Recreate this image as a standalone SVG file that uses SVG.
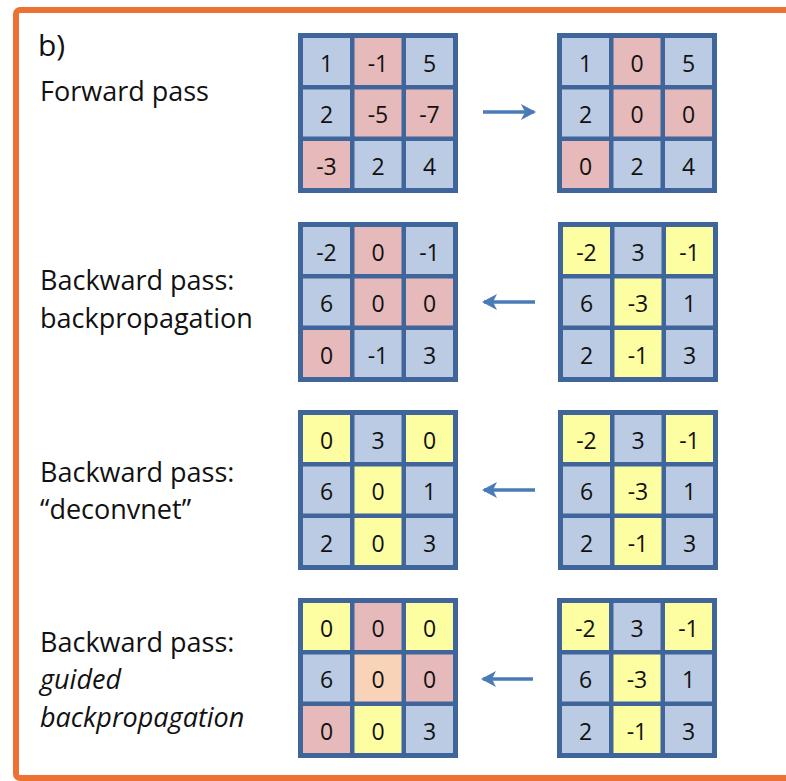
<svg xmlns="http://www.w3.org/2000/svg" width="786" height="781" viewBox="0 0 786 781">
<style>
.lbl{font-family:"Open Sans","Liberation Sans",sans-serif;font-size:27px;fill:#111}
.it{font-style:italic}
.frame{fill:#40659A}
.b{fill:#BACBE3}
.p{fill:#E6BABA}
.y{fill:#FDFDA2}
.o{fill:#F9D3B8}
.n{font-family:"Open Sans","Liberation Sans",sans-serif;font-size:23px;fill:#111;text-anchor:middle;dominant-baseline:central}
.arr{stroke:#4A7BB7;stroke-width:3.5;fill:none}
</style>
<defs>
<marker id="ah" markerWidth="16" markerHeight="18" refX="13" refY="9" orient="auto" markerUnits="userSpaceOnUse">
<path d="M0,1 L15,9 L0,17 L4,9 Z" fill="#4A7BB7"/>
</marker>
</defs>
<rect x="16" y="10" width="800" height="768" rx="4" fill="#fff" stroke="#ED7133" stroke-width="6"/>

<g id="label-b"><text class="lbl" x="38" y="56" style="font-size:30px">b)</text></g>
<g id="label-forward"><text class="lbl" x="40" y="101">Forward pass</text></g>
<g id="label-backprop"><text class="lbl" x="40" y="290">Backward pass:</text><text class="lbl" x="40" y="328">backpropagation</text></g>
<g id="label-deconv"><text class="lbl" x="40" y="482">Backward pass:</text><text class="lbl" x="40" y="519">“deconvnet”</text></g>
<g id="label-guided"><text class="lbl" x="40" y="652">Backward pass:</text><text class="lbl it" x="40" y="689">guided</text><text class="lbl it" x="40" y="727">backpropagation</text></g>

<g id="fwd-in" transform="translate(298,33)">
<rect class="frame" width="160" height="160"/>
<rect class="b" x="5" y="5" width="47" height="47"/><rect class="p" x="56.5" y="5" width="47" height="47"/><rect class="b" x="108" y="5" width="47" height="47"/>
<rect class="b" x="5" y="56.5" width="47" height="47"/><rect class="p" x="56.5" y="56.5" width="47" height="47"/><rect class="p" x="108" y="56.5" width="47" height="47"/>
<rect class="p" x="5" y="108" width="47" height="47"/><rect class="b" x="56.5" y="108" width="47" height="47"/><rect class="b" x="108" y="108" width="47" height="47"/>
<text class="n" x="28.5" y="29.5">1</text><text class="n" x="80" y="29.5">-1</text><text class="n" x="131.5" y="29.5">5</text>
<text class="n" x="28.5" y="81">2</text><text class="n" x="80" y="81">-5</text><text class="n" x="131.5" y="81">-7</text>
<text class="n" x="28.5" y="132.5">-3</text><text class="n" x="80" y="132.5">2</text><text class="n" x="131.5" y="132.5">4</text>
</g>

<g id="fwd-out" transform="translate(557,33)">
<rect class="frame" width="160" height="160"/>
<rect class="b" x="5" y="5" width="47" height="47"/><rect class="p" x="56.5" y="5" width="47" height="47"/><rect class="b" x="108" y="5" width="47" height="47"/>
<rect class="b" x="5" y="56.5" width="47" height="47"/><rect class="p" x="56.5" y="56.5" width="47" height="47"/><rect class="p" x="108" y="56.5" width="47" height="47"/>
<rect class="p" x="5" y="108" width="47" height="47"/><rect class="b" x="56.5" y="108" width="47" height="47"/><rect class="b" x="108" y="108" width="47" height="47"/>
<text class="n" x="28.5" y="29.5">1</text><text class="n" x="80" y="29.5">0</text><text class="n" x="131.5" y="29.5">5</text>
<text class="n" x="28.5" y="81">2</text><text class="n" x="80" y="81">0</text><text class="n" x="131.5" y="81">0</text>
<text class="n" x="28.5" y="132.5">0</text><text class="n" x="80" y="132.5">2</text><text class="n" x="131.5" y="132.5">4</text>
</g>

<g id="bp-out" transform="translate(298,222)">
<rect class="frame" width="160" height="160"/>
<rect class="b" x="5" y="5" width="47" height="47"/><rect class="p" x="56.5" y="5" width="47" height="47"/><rect class="b" x="108" y="5" width="47" height="47"/>
<rect class="b" x="5" y="56.5" width="47" height="47"/><rect class="p" x="56.5" y="56.5" width="47" height="47"/><rect class="p" x="108" y="56.5" width="47" height="47"/>
<rect class="p" x="5" y="108" width="47" height="47"/><rect class="b" x="56.5" y="108" width="47" height="47"/><rect class="b" x="108" y="108" width="47" height="47"/>
<text class="n" x="28.5" y="29.5">-2</text><text class="n" x="80" y="29.5">0</text><text class="n" x="131.5" y="29.5">-1</text>
<text class="n" x="28.5" y="81">6</text><text class="n" x="80" y="81">0</text><text class="n" x="131.5" y="81">0</text>
<text class="n" x="28.5" y="132.5">0</text><text class="n" x="80" y="132.5">-1</text><text class="n" x="131.5" y="132.5">3</text>
</g>

<g id="bp-in" transform="translate(558,222)">
<rect class="frame" width="160" height="160"/>
<rect class="y" x="5" y="5" width="47" height="47"/><rect class="b" x="56.5" y="5" width="47" height="47"/><rect class="y" x="108" y="5" width="47" height="47"/>
<rect class="b" x="5" y="56.5" width="47" height="47"/><rect class="y" x="56.5" y="56.5" width="47" height="47"/><rect class="b" x="108" y="56.5" width="47" height="47"/>
<rect class="b" x="5" y="108" width="47" height="47"/><rect class="y" x="56.5" y="108" width="47" height="47"/><rect class="b" x="108" y="108" width="47" height="47"/>
<text class="n" x="28.5" y="29.5">-2</text><text class="n" x="80" y="29.5">3</text><text class="n" x="131.5" y="29.5">-1</text>
<text class="n" x="28.5" y="81">6</text><text class="n" x="80" y="81">-3</text><text class="n" x="131.5" y="81">1</text>
<text class="n" x="28.5" y="132.5">2</text><text class="n" x="80" y="132.5">-1</text><text class="n" x="131.5" y="132.5">3</text>
</g>

<g id="dc-out" transform="translate(298,410)">
<rect class="frame" width="160" height="160"/>
<rect class="y" x="5" y="5" width="47" height="47"/><rect class="b" x="56.5" y="5" width="47" height="47"/><rect class="y" x="108" y="5" width="47" height="47"/>
<rect class="b" x="5" y="56.5" width="47" height="47"/><rect class="y" x="56.5" y="56.5" width="47" height="47"/><rect class="b" x="108" y="56.5" width="47" height="47"/>
<rect class="b" x="5" y="108" width="47" height="47"/><rect class="y" x="56.5" y="108" width="47" height="47"/><rect class="b" x="108" y="108" width="47" height="47"/>
<text class="n" x="28.5" y="29.5">0</text><text class="n" x="80" y="29.5">3</text><text class="n" x="131.5" y="29.5">0</text>
<text class="n" x="28.5" y="81">6</text><text class="n" x="80" y="81">0</text><text class="n" x="131.5" y="81">1</text>
<text class="n" x="28.5" y="132.5">2</text><text class="n" x="80" y="132.5">0</text><text class="n" x="131.5" y="132.5">3</text>
</g>

<g id="dc-in" transform="translate(558,410)">
<rect class="frame" width="160" height="160"/>
<rect class="y" x="5" y="5" width="47" height="47"/><rect class="b" x="56.5" y="5" width="47" height="47"/><rect class="y" x="108" y="5" width="47" height="47"/>
<rect class="b" x="5" y="56.5" width="47" height="47"/><rect class="y" x="56.5" y="56.5" width="47" height="47"/><rect class="b" x="108" y="56.5" width="47" height="47"/>
<rect class="b" x="5" y="108" width="47" height="47"/><rect class="y" x="56.5" y="108" width="47" height="47"/><rect class="b" x="108" y="108" width="47" height="47"/>
<text class="n" x="28.5" y="29.5">-2</text><text class="n" x="80" y="29.5">3</text><text class="n" x="131.5" y="29.5">-1</text>
<text class="n" x="28.5" y="81">6</text><text class="n" x="80" y="81">-3</text><text class="n" x="131.5" y="81">1</text>
<text class="n" x="28.5" y="132.5">2</text><text class="n" x="80" y="132.5">-1</text><text class="n" x="131.5" y="132.5">3</text>
</g>

<g id="gb-out" transform="translate(298,598)">
<rect class="frame" width="160" height="160"/>
<rect class="y" x="5" y="5" width="47" height="47"/><rect class="p" x="56.5" y="5" width="47" height="47"/><rect class="y" x="108" y="5" width="47" height="47"/>
<rect class="b" x="5" y="56.5" width="47" height="47"/><rect class="o" x="56.5" y="56.5" width="47" height="47"/><rect class="p" x="108" y="56.5" width="47" height="47"/>
<rect class="p" x="5" y="108" width="47" height="47"/><rect class="y" x="56.5" y="108" width="47" height="47"/><rect class="b" x="108" y="108" width="47" height="47"/>
<text class="n" x="28.5" y="29.5">0</text><text class="n" x="80" y="29.5">0</text><text class="n" x="131.5" y="29.5">0</text>
<text class="n" x="28.5" y="81">6</text><text class="n" x="80" y="81">0</text><text class="n" x="131.5" y="81">0</text>
<text class="n" x="28.5" y="132.5">0</text><text class="n" x="80" y="132.5">0</text><text class="n" x="131.5" y="132.5">3</text>
</g>

<g id="gb-in" transform="translate(557,598)">
<rect class="frame" width="160" height="160"/>
<rect class="y" x="5" y="5" width="47" height="47"/><rect class="b" x="56.5" y="5" width="47" height="47"/><rect class="y" x="108" y="5" width="47" height="47"/>
<rect class="b" x="5" y="56.5" width="47" height="47"/><rect class="y" x="56.5" y="56.5" width="47" height="47"/><rect class="b" x="108" y="56.5" width="47" height="47"/>
<rect class="b" x="5" y="108" width="47" height="47"/><rect class="y" x="56.5" y="108" width="47" height="47"/><rect class="b" x="108" y="108" width="47" height="47"/>
<text class="n" x="28.5" y="29.5">-2</text><text class="n" x="80" y="29.5">3</text><text class="n" x="131.5" y="29.5">-1</text>
<text class="n" x="28.5" y="81">6</text><text class="n" x="80" y="81">-3</text><text class="n" x="131.5" y="81">1</text>
<text class="n" x="28.5" y="132.5">2</text><text class="n" x="80" y="132.5">-1</text><text class="n" x="131.5" y="132.5">3</text>
</g>

<g id="connectors">
<line class="arr" x1="483" y1="112" x2="534" y2="112" marker-end="url(#ah)"/>
<line class="arr" x1="535" y1="302" x2="484" y2="302" marker-end="url(#ah)"/>
<line class="arr" x1="535" y1="490" x2="484" y2="490" marker-end="url(#ah)"/>
<line class="arr" x1="533" y1="679" x2="483" y2="679" marker-end="url(#ah)"/>
</g>
</svg>
